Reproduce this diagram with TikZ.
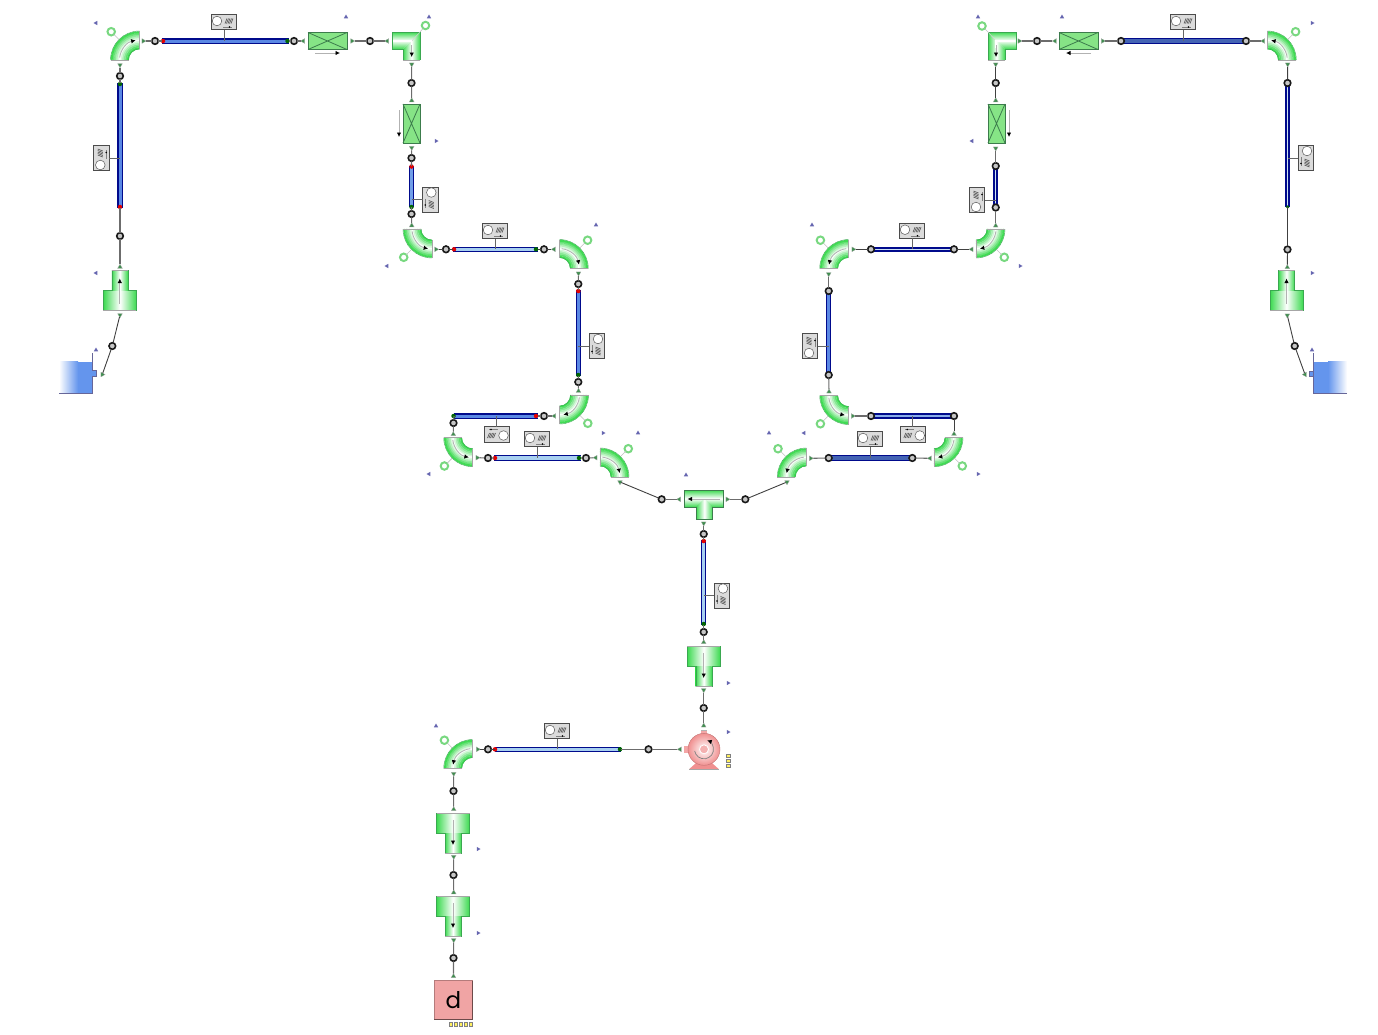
\documentclass[tikz,border=0pt]{standalone}
\usepackage{fontspec}
\setmainfont{Poppins}
\usetikzlibrary{arrows.meta,shapes.geometric}
\definecolor{elbg}{HTML}{3CDA50}
\definecolor{elbo}{HTML}{3AA850}
\definecolor{valvef}{HTML}{86E486}
\definecolor{valved}{HTML}{3C7C4C}
\definecolor{rimb}{HTML}{000A8C}
\definecolor{pipeblue}{HTML}{5A88E4}
\definecolor{pipelight}{HTML}{A8D0F0}
\definecolor{pipesteel}{HTML}{4464B4}
\definecolor{pipepale}{HTML}{CFE4F4}
\definecolor{resblue}{HTML}{6495ED}
\definecolor{mkcol}{HTML}{6666B0}
\definecolor{portcol}{HTML}{3F8F4F}
\definecolor{pumpc}{HTML}{F09090}
\definecolor{sinkc}{HTML}{F0A4A4}
\definecolor{ylw}{HTML}{FFF060}
\definecolor{ringg}{HTML}{78D880}
\tikzset{
  x=1pt,y=1pt,
  jnc/.style={circle,draw=black!90,line width=1.6pt,fill=gray!45,minimum size=6.6pt,inner sep=0,outer sep=0},
  portn/.style={regular polygon,regular polygon sides=3,fill=portcol,draw=gray!70,line width=.25pt,minimum size=5.5pt,inner sep=0,outer sep=0},
  mkn/.style={regular polygon,regular polygon sides=3,fill=mkcol,minimum size=5pt,inner sep=0,outer sep=0},
  conn/.style={draw=gray!85!black,line width=1.1pt},
  connd/.style={draw=black!75,line width=.9pt},
  ringc/.style={circle,draw=ringg,line width=2pt,fill=white,minimum size=7.5pt,inner sep=0,outer sep=0},
  gaugebox/.style={rectangle,draw=black!70,line width=.9pt,fill=gray!28,minimum width=25pt,minimum height=15.5pt,inner sep=0,outer sep=0},
  redd/.style={circle,fill=red!90!black,minimum size=4.5pt,inner sep=0,outer sep=0},
  gred/.style={circle,fill=green!40!black,minimum size=4.5pt,inner sep=0,outer sep=0},
  flow/.style={draw=gray!60,line width=.8pt,-{Latex[black,length=4.5pt,width=4.5pt]}},
  flowb/.style={draw=white,line width=1.4pt},
  ybox/.style={rectangle,draw=gray,line width=.4pt,fill=ylw,minimum width=4pt,minimum height=2.8pt,inner sep=0,outer sep=0},
  yboxv/.style={ybox,minimum width=2.8pt,minimum height=4pt},
  tube/.style={draw=elbo,line width=.4pt},
}
\newcommand{\jn}[3]{\node[jnc] (#1) at (#2,-#3) {};}
\newcommand{\portU}[3]{\node[portn] (#1) at (#2,-#3) {};}
\newcommand{\portD}[3]{\node[portn,shape border rotate=180] (#1) at (#2,-#3) {};}
\newcommand{\portL}[3]{\node[portn,shape border rotate=90] (#1) at (#2,-#3) {};}
\newcommand{\portR}[3]{\node[portn,shape border rotate=270] (#1) at (#2,-#3) {};}
\newcommand{\mkU}[2]{\node[mkn] (mk-#1-#2) at (#1,-#2) {};}
\newcommand{\mkL}[2]{\node[mkn,shape border rotate=90] (mk-#1-#2) at (#1,-#2) {};}
\newcommand{\mkR}[2]{\node[mkn,shape border rotate=270] (mk-#1-#2) at (#1,-#2) {};}
% elbow: name cx cy angle-from angle-to (flow direction), image coordinates
\newcommand{\elbow}[5]{%
  \coordinate (#1) at (#2,-#3);
  \pgfmathsetmacro\amin{min(#4,#5)}
  \pgfmathsetmacro\amax{max(#4,#5)}
  \pgfmathsetmacro\amid{(#4+#5)/2}
  \pgfmathsetmacro\sgn{(#5>#4)?1:-1}
  \pgfmathsetmacro\fa{#4+\sgn*7}
  \pgfmathsetmacro\fb{#5-\sgn*11}
  \foreach \rr in {11.8,13.4,15,16.6,18.2,19.8,21.4,23,24.6,26.2,27.8}{
    \pgfmathsetmacro\mixv{min(100,100*abs(\rr-20)/8)}
    \draw[line width=1.9pt,draw=elbg!\mixv!white] ([shift={(\amin:\rr)}]#1) arc[start angle=\amin,end angle=\amax,radius=\rr];
  }
  \draw[tube] ([shift={(\amin:29)}]#1) arc[start angle=\amin,end angle=\amax,radius=29];
  \draw[tube] ([shift={(\amin:11)}]#1) arc[start angle=\amin,end angle=\amax,radius=11];
  \draw[draw=gray!70,line width=.7pt] ([shift={(\amin:11)}]#1) -- ([shift={(\amin:29)}]#1);
  \draw[draw=gray!70,line width=.7pt] ([shift={(\amax:11)}]#1) -- ([shift={(\amax:29)}]#1);
  \draw[flow] ([shift={(\fa:20)}]#1) arc[start angle=\fa,end angle=\fb,radius=20];
  \node[ringc] (#1c) at ([shift={(\amid:40)}]#1) {};
  \draw[draw=gray!50,line width=.6pt] ([shift={(\amid:29)}]#1) -- (#1c);
}
% reducer: name cx shoulder-y ysign (1: wide on top, -1: wide below)
\newcommand{\reducer}[4]{%
  \begin{scope}[shift={(#2,-#3)}]
    \coordinate (#1) at (0,0);
    \path[left color=elbg,right color=elbg,middle color=white] (-16.5,-.2) rectangle (16.5,{20*#4});
    \path[left color=elbg,right color=elbg,middle color=white] (-8,{-20*#4}) rectangle (8,0);
    \draw[tube] (-8,{-20*#4}) -- (-8,0) -- (-16.5,0) -- (-16.5,{20*#4}) -- (16.5,{20*#4}) -- (16.5,0) -- (8,0) -- (8,{-20*#4}) -- cycle;
    \draw[draw=gray!70,line width=.8pt] (-8,{-20*#4}) -- (8,{-20*#4});
    \draw[draw=gray!70,line width=.8pt] (-16.5,{20*#4}) -- (16.5,{20*#4});
    \draw[flow] (0,{13*#4}) -- (0,{-12*#4});
  \end{scope}
}
% valve: name x1 y1 x2 y2
\newcommand{\valve}[5]{%
  \node[rectangle,inner sep=0,outer sep=0,minimum width=0,minimum height=0] (#1) at ({(#2+#4)/2},{-(#3+#5)/2}) {};
  \draw[draw=valved,line width=.9pt,fill=valvef] (#2,-#3) rectangle (#4,-#5);
  \draw[draw=valved,line width=.8pt] (#2,-#3) -- (#4,-#5) (#2,-#5) -- (#4,-#3);
}
% pipe: name x1 y1 x2 y2 inner-colour inner-width
\newcommand{\pipe}[7]{%
  \coordinate (#1a) at (#2,-#3);
  \coordinate (#1b) at (#4,-#5);
  \draw[draw=rimb,line width=5.2pt] (#1a) -- (#1b);
  \draw[draw=#6,line width=#7] (#1a) -- (#1b);
}
% gauge: name cx cy rotation target-x target-y
\newcommand{\gauge}[6]{%
  \node[gaugebox,rotate=#4] (#1) at (#2,-#3) {};
  \begin{scope}[shift={(#2,-#3)},rotate=#4]
    \draw[draw=gray!70!black,line width=.5pt,fill=white] (-7,1) circle (4.8);
    \foreach \hx in {0,1.5,3,4.5,6}{\draw[draw=black!70,line width=.6pt] (\hx+1,-1.5) -- (\hx+3,3.5);}
    \draw[draw=gray,line width=.4pt] (-1,-5) -- (8,-5);
    \fill[black] (5.5,-5) circle (.9);
  \end{scope}
  \coordinate (#1t) at (#5,-#6);
  \draw[draw=black!60,line width=.9pt] (#1.south) -- (#1t);
}
\begin{document}
\begin{tikzpicture}
\useasboundingbox (0,0) rectangle (1378,-1034);
% ---------- elbows
\elbow{ea}{139.5}{60}{180}{90}
\elbow{eb}{432}{229}{180}{270}
\elbow{ec}{559.3}{268.5}{90}{0}
\elbow{ed}{559.5}{395}{360}{270}
\elbow{ee}{472.7}{437.7}{180}{270}
\elbow{ef}{600}{477}{90}{0}
\elbow{eg}{1267.3}{60}{0}{90}
\elbow{eh}{976}{229}{360}{270}
\elbow{ei}{848.7}{268.5}{90}{180}
\elbow{ej}{848.7}{395.5}{180}{270}
\elbow{ek}{934}{437.7}{360}{270}
\elbow{el}{806.3}{477}{90}{180}
\elbow{em}{472.7}{768.5}{90}{180}
% ---------- mitred elbows
\coordinate (sqa) at (406,-46);
\path[left color=elbg,right color=elbg,middle color=white] (403,-49) -- (420,-32) -- (420,-60) -- (403,-60) -- cycle;
\path[top color=elbg,bottom color=elbg,middle color=white] (392,-32) -- (420,-32) -- (403,-49) -- (392,-49) -- cycle;
\draw[tube] (392,-49) -- (392,-32) -- (420,-32) -- (420,-60) (403,-60) -- (403,-49) -- (392,-49);
\draw[draw=gray!70,line width=.8pt] (403,-60) -- (420,-60);
\draw[draw=gray!40,line width=.5pt] (411.7,-41) -- (420,-32);
\draw[flowb] (393,-41) -- (411.7,-41) -- (411.7,-48);
\draw[flow] (411.7,-45) -- (411.7,-57);
\node[ringc] (sqac) at (425.5,-25.5) {};
\draw[draw=gray!50,line width=.6pt] (420,-32) -- (sqac);
\coordinate (sqb) at (1002,-46);
\path[left color=elbg,right color=elbg,middle color=white] (1005,-49) -- (988,-32) -- (988,-60) -- (1005,-60) -- cycle;
\path[top color=elbg,bottom color=elbg,middle color=white] (1016,-32) -- (988,-32) -- (1005,-49) -- (1016,-49) -- cycle;
\draw[tube] (1005,-60) -- (1005,-49) -- (1016,-49) -- (1016,-32) -- (988,-32) -- (988,-60);
\draw[draw=gray!70,line width=.8pt] (988,-60) -- (1005,-60);
\draw[draw=gray!40,line width=.5pt] (996,-41) -- (988,-32);
\draw[flowb] (1015,-41) -- (996,-41) -- (996,-48);
\draw[flow] (996,-45) -- (996,-57);
\node[ringc] (sqbc) at (982,-26) {};
\draw[draw=gray!50,line width=.6pt] (988,-32) -- (sqbc);
% ---------- valves
\valve{va}{308}{32.5}{347}{49.5}
\draw[flow] (315,-53) -- (340,-53);
\valve{vb}{403}{104}{420}{143}
\draw[flow] (399,-110) -- (399,-137);
\valve{vc}{1059}{32.5}{1098}{49.5}
\draw[flow] (1091,-53) -- (1066,-53);
\valve{vd}{988}{104}{1005}{143}
\draw[flow] (1009,-110) -- (1009,-137);
% ---------- reducers
\reducer{ra}{119.8}{290.5}{-1}
\reducer{rb}{1286.5}{290.5}{-1}
\reducer{rc}{703.7}{666}{1}
\reducer{rd}{453}{833}{1}
\reducer{re}{453}{916}{1}
% ---------- tee
\coordinate (tee) at (703.7,-499);
\path[top color=elbg,bottom color=elbg,middle color=white] (684,-490) rectangle (723.7,-507);
\path[left color=elbg,right color=elbg,middle color=white] (696,-519) -- (696,-507) -- (704.3,-498.7) -- (712.7,-507) -- (712.7,-519) -- cycle;
\draw[draw=valved,line width=.7pt] (696,-507) -- (684,-507) -- (684,-490) -- (723.7,-490) -- (723.7,-507) -- (712.7,-507) -- (712.7,-519) -- (696,-519) -- cycle;
\draw[flow] (720,-499) -- (687.5,-499);
% ---------- reservoirs
\path[left color=white,right color=resblue] (59,-361.7) rectangle (78,-393);
\fill[resblue] (77.5,-361.7) rectangle (92,-393);
\draw[draw=gray!80!blue,line width=.7pt] (59,-393) -- (92,-393) -- (92,-353);
\draw[draw=gray!80!blue,line width=.6pt,fill=resblue] (92,-370.7) -- (96.7,-370.7) -- (96.7,-376) -- (92,-376);
\coordinate (resa) at (96.7,-374);
\path[left color=resblue,right color=white] (1328,-361.7) rectangle (1347,-393.3);
\fill[resblue] (1313.3,-361.7) rectangle (1328.5,-393.3);
\draw[draw=gray!80!blue,line width=.7pt] (1347,-393.3) -- (1313.3,-393.3) -- (1313.3,-353);
\draw[draw=gray!80!blue,line width=.6pt,fill=resblue] (1313.3,-371.7) -- (1309,-371.7) -- (1309,-376.7) -- (1313.3,-376.7);
\coordinate (resb) at (1309,-374);
% ---------- pump
\fill[pumpc!80] (701,-730) rectangle (706.5,-736);
\draw[draw=gray!60,line width=.4pt] (701,-730) -- (706.5,-730);
\fill[pumpc!80] (684,-746) rectangle (690,-753);
\fill[pumpc] (689,-769.3) -- (719,-769.3) -- (712,-763) -- (696,-763) -- cycle;
\draw[draw=gray!70,line width=.6pt] (689,-769.3) -- (719,-769.3);
\node[circle,minimum size=32pt,inner sep=0,outer sep=0,inner color=white,outer color=pumpc,draw=pumpc!80!black,line width=.4pt] (pump) at (704,-749.3) {};
\node[circle,minimum size=9pt,inner sep=0,outer sep=0,fill=pumpc!70,draw=white,line width=.8pt] (pumpeye) at (704,-749.3) {};
\draw[draw=gray,line width=.7pt,-{Latex[black,length=4.5pt,width=4.5pt]}] ([shift={(190:9.5)}]pump.center) arc[start angle=190,end angle=430,radius=9.5];
\node[ybox] (pya) at (728.5,-756) {};
\node[ybox] (pyb) at (728.5,-761) {};
\node[ybox] (pyc) at (728.5,-766) {};
% ---------- sink
\node[rectangle,draw=sinkc!75!black,line width=.8pt,fill=sinkc,minimum width=38.5pt,minimum height=38.5pt,inner sep=0,outer sep=0,font=\fontsize{23}{23}\selectfont] (sink) at (453.5,-999.7) {d};
\draw[draw=black!55!sinkc,line width=.9pt] (434.3,-1019) -- (472.8,-1019) -- (472.8,-980.5);
\node[yboxv] (sya) at (451,-1024.3) {};
\node[yboxv] (syb) at (456,-1024.3) {};
\node[yboxv] (syc) at (461,-1024.3) {};
\node[yboxv] (syd) at (466,-1024.3) {};
\node[yboxv] (sye) at (471,-1024.3) {};
% ---------- pipes
\pipe{pa}{161.5}{41}{288.5}{41}{pipeblue}{3pt}
\pipe{pb}{120}{83}{120}{208}{pipeblue}{3pt}
\pipe{pc}{411.5}{166}{411.5}{207}{pipeblue!70!pipelight}{3pt}
\pipe{pd}{453}{249.3}{538}{249.3}{pipelight}{3.2pt}
\pipe{pe}{578.3}{290}{578.3}{376}{pipeblue}{3pt}
\pipe{pf}{454}{416}{538}{416}{pipeblue}{3pt}
\pipe{pg}{494}{458}{581}{458}{pipelight}{3.2pt}
\pipe{ph}{703.7}{540}{703.7}{625}{pipelight}{3.2pt}
\pipe{pi}{495}{749.3}{621}{749.3}{pipelight}{3.2pt}
\pipe{pj}{1121}{41}{1246}{41}{pipesteel}{3.2pt}
\pipe{pk}{1287.5}{83}{1287.5}{207}{pipepale}{1.4pt}
\pipe{pl}{995.7}{166}{995.7}{207}{pipepale}{1.4pt}
\pipe{pm}{871}{249.3}{954}{249.3}{pipepale}{1.4pt}
\pipe{pn}{828.7}{291}{828.7}{375}{pipeblue}{3pt}
\pipe{po}{871}{416}{954}{416}{pipeblue!60!pipepale}{1.8pt}
\pipe{pp}{828.7}{458}{912.3}{458}{pipesteel}{3.6pt}
% ---------- pipe end dots
\node[redd] (da1) at (163,-41) {};
\node[gred] (da2) at (287.5,-41) {};
\node[gred] (db1) at (120,-84) {};
\node[redd] (db2) at (120,-207) {};
\node[redd] (dc1) at (411.5,-166.5) {};
\node[gred] (dc2) at (411.5,-207) {};
\node[redd] (dd1) at (454,-249.3) {};
\node[gred] (dd2) at (536,-249.3) {};
\node[redd] (de1) at (578.3,-291) {};
\node[gred] (de2) at (578.3,-375) {};
\node[gred] (df1) at (453.5,-416) {};
\node[redd] (df2) at (536,-416) {};
\node[redd] (dg1) at (495,-458) {};
\node[gred] (dg2) at (579,-458) {};
\node[redd] (dh1) at (703.7,-541) {};
\node[gred] (dh2) at (703.7,-624) {};
\node[redd] (di1) at (495,-749.3) {};
\node[gred] (di2) at (620,-749.3) {};
\node[gred,minimum size=3.5pt] (dk2) at (1287.5,-207) {};
% ---------- gauges
\gauge{ga}{224}{22}{0}{224}{41}
\gauge{gb}{101.3}{158}{90}{120}{158}
\gauge{gc}{430.3}{199.5}{-90}{411.5}{199.5}
\gauge{gd}{495}{231}{0}{495}{249.3}
\gauge{ge}{597}{346}{-90}{578.3}{346}
\gauge{gf}{496.5}{434.5}{180}{496.5}{416}
\gauge{gg}{537}{439}{0}{537}{458}
\gauge{gh}{722}{595.5}{-90}{703.7}{595.5}
\gauge{gi}{557}{731}{0}{557}{749.3}
\gauge{gj}{1183}{22}{0}{1183}{41}
\gauge{gk}{1306}{158}{-90}{1287.5}{158}
\gauge{gl}{977}{200}{90}{995.7}{200}
\gauge{gm}{912}{230.7}{0}{912}{249.3}
\gauge{gn}{810}{346}{90}{828.7}{346}
\gauge{go}{912.8}{434.5}{180}{912.8}{416}
\gauge{gp}{870}{439}{0}{870}{458}
% ---------- junctions
\jn{j01}{155}{41}\jn{j02}{294}{41}\jn{j03}{370}{41}\jn{j04}{120}{76}\jn{j05}{120}{236}
\jn{j06}{112.3}{346}\jn{j07}{411.5}{83}\jn{j08}{411.5}{158}\jn{j09}{411.5}{214}\jn{j10}{446}{249.3}
\jn{j11}{544}{249.3}\jn{j12}{578.3}{284}\jn{j13}{578.3}{382}\jn{j14}{453.5}{423}\jn{j15}{544}{416}
\jn{j16}{488}{458}\jn{j17}{586}{458}\jn{j18}{661.7}{499.3}\jn{j19}{745.3}{499.3}\jn{j20}{703.7}{534}
\jn{j21}{703.7}{632}\jn{j22}{703.7}{708}\jn{j23}{648.5}{749.3}\jn{j24}{488}{749.3}\jn{j25}{453.5}{791}
\jn{j26}{453.5}{875}\jn{j27}{453.5}{958}
\jn{j28}{1037}{41}\jn{j29}{1121}{41}\jn{j30}{1246}{41}\jn{j31}{995.7}{83}\jn{j32}{995.7}{166}
\jn{j33}{995.7}{207.5}\jn{j34}{1287.5}{83}\jn{j35}{1287.5}{249.5}\jn{j36}{1294.7}{346}\jn{j37}{954}{249.3}
\jn{j38}{871}{249.3}\jn{j39}{828.7}{291}\jn{j40}{828.7}{375}\jn{j41}{871}{416}\jn{j42}{954}{416}
\jn{j43}{828.7}{458}\jn{j44}{912.3}{458}
% ---------- ports
\portR{pt01}{143.3}{41}\portL{pt02}{303.3}{41}\portR{pt03}{352}{41}\portL{pt04}{387.3}{41}
\portD{pt05}{120}{65}\portU{pt06}{120}{267}\portD{pt07}{120}{315}\portR{pt08}{102.3}{374.5}
\portD{pt09}{411.7}{64.3}\portU{pt10}{411.7}{100.5}\portD{pt11}{411.7}{147.7}\portU{pt12}{411.7}{225.5}
\portR{pt13}{436}{249.3}\portL{pt14}{554}{249.3}\portD{pt15}{578.5}{273.3}\portU{pt16}{578.5}{391}
\portL{pt17}{554.3}{416}\portU{pt18}{453.3}{434.3}\portR{pt19}{477.3}{457.7}\portL{pt20}{595.7}{457.7}
\portD{pt21}{620}{482}\portL{pt22}{679.3}{499.3}\portR{pt23}{727.3}{499.3}\portD{pt24}{787}{482}
\portD{pt25}{703.7}{523.3}\portU{pt26}{703.7}{642.3}\portD{pt27}{703.7}{690}\portU{pt28}{703.7}{725.7}
\portL{pt29}{680}{749.3}\portR{pt30}{477.7}{749.3}\portD{pt31}{453.7}{773.7}\portU{pt32}{453.7}{809.3}
\portD{pt33}{453.7}{856.7}\portU{pt34}{453.7}{892.5}\portD{pt35}{453.7}{940}\portU{pt36}{453.5}{976.3}
\portL{pt37}{1305}{374.5}\portD{pt38}{1287.3}{315.3}\portU{pt39}{1287.3}{267.3}\portD{pt40}{1287.7}{64.3}
\portL{pt41}{1263.3}{41}\portR{pt42}{1102.7}{41}\portL{pt43}{1055}{41}\portR{pt44}{1019.3}{41}
\portD{pt45}{995.7}{64.3}\portU{pt46}{995.7}{100.5}\portD{pt47}{995.7}{148.3}\portU{pt48}{995.7}{225.7}
\portL{pt49}{971.7}{249.3}\portR{pt50}{853.3}{249.3}\portD{pt51}{828.7}{274}\portU{pt52}{829}{391.7}
\portR{pt53}{852.7}{416}\portU{pt54}{954}{434}\portL{pt55}{930}{458.3}\portR{pt56}{810.7}{458.3}
% ---------- markers
\mkL{96}{23}\mkU{346}{17}\mkU{429}{17}\mkR{436}{141}\mkL{96}{273}\mkU{96}{350}\mkL{387}{266}
\mkU{596}{225}\mkR{603}{433}\mkU{638}{433}\mkL{429}{474}\mkU{686}{475}\mkR{728}{683}\mkR{728}{732}
\mkU{436}{726}\mkR{478}{849}\mkR{478}{933}
\mkU{978}{17}\mkU{1062}{17}\mkR{1312}{23}\mkL{972}{141}\mkR{1312}{273}\mkU{1312}{350}\mkR{1020}{266}
\mkU{812}{225}\mkU{769}{433}\mkL{804}{433}\mkR{978}{474}
% ---------- connectors
\draw[conn] (pt01) -- (j01) -- (paa);
\draw[conn] (pab) -- (j02) -- (pt02);
\draw[conn] (pt03) -- (j03) -- (pt04);
\draw[conn] (pt05) -- (j04) -- (pba);
\draw[conn] (pbb) -- (j05) -- (pt06);
\draw[connd] (pt07) -- (j06) -- (pt08);
\draw[conn] (pt09) -- (j07) -- (pt10);
\draw[conn] (pt11) -- (j08) -- (pca);
\draw[conn] (pcb) -- (j09) -- (pt12);
\draw[connd] (pt13) -- (j10) -- (pda);
\draw[connd] (pdb) -- (j11) -- (pt14);
\draw[conn] (pt15) -- (j12) -- (pea);
\draw[conn] (peb) -- (j13) -- (pt16);
\draw[conn] (pt17) -- (j15) -- (pfb);
\draw[conn] (pfa) -- (j14) -- (pt18);
\draw[conn] (pt19) -- (j16) -- (pga);
\draw[conn] (pgb) -- (j17) -- (pt20);
\draw[connd] (pt21) -- (j18);
\draw[conn] (j18) -- (pt22);
\draw[connd] (pt24) -- (j19);
\draw[conn] (j19) -- (pt23);
\draw[conn] (pt25) -- (j20) -- (pha);
\draw[conn] (phb) -- (j21) -- (pt26);
\draw[conn] (pt27) -- (j22) -- (pt28);
\draw[conn] (pt29) -- (j23) -- (pib);
\draw[connd] (pia) -- (j24) -- (pt30);
\draw[conn] (pt31) -- (j25) -- (pt32);
\draw[conn] (pt33) -- (j26) -- (pt34);
\draw[conn] (pt35) -- (j27) -- (pt36);
\draw[connd] (pt37) -- (j36) -- (pt38);
\draw[connd] (pt39) -- (j35) -- (pkb);
\draw[connd] (pka) -- (j34) -- (pt40);
\draw[conn] (pt41) -- (j30);
\draw[conn] (j29) -- (pt42);
\draw[conn] (pt43) -- (j28) -- (pt44);
\draw[connd] (pt45) -- (j31) -- (pt46);
\draw[conn] (pt47) -- (j32);
\draw[conn] (j33) -- (pt48);
\draw[connd] (pt49) -- (j37);
\draw[connd] (j38) -- (pt50);
\draw[conn] (pt51) -- (j39);
\draw[conn] (j40) -- (pt52);
\draw[conn] (pt53) -- (j41);
\draw[connd] (j42) -- (pt54);
\draw[conn] (pt55) -- (j44);
\draw[conn] (j43) -- (pt56);
\end{tikzpicture}
\end{document}
